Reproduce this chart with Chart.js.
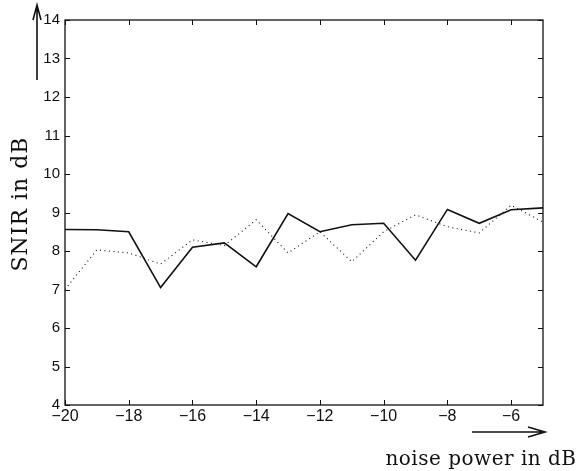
<!DOCTYPE html>
<html>
<head>
<meta charset="utf-8">
<script src="https://cdn.jsdelivr.net/npm/chart.js@4.4.1/dist/chart.umd.min.js"></script>
<style>
  html, body { margin: 0; padding: 0; background: #fff; }
  canvas { display: block; }
</style>
</head>
<body>
<canvas id="myChart" width="580" height="471"></canvas>
<script>
const noisePower = [-20, -19, -18, -17, -16, -15, -14, -13, -12, -11, -10, -9, -8, -7, -6, -5];
const snirSolid  = [8.56, 8.55, 8.50, 7.05, 8.10, 8.21, 7.59, 8.97, 8.50, 8.68, 8.72, 7.76, 9.08, 8.72, 9.07, 9.12];
const snirDotted = [7.00, 8.03, 7.95, 7.66, 8.29, 8.14, 8.81, 7.95, 8.50, 7.72, 8.50, 8.94, 8.63, 8.47, 9.19, 8.75];
const xTicks = [-20, -18, -16, -14, -12, -10, -8, -6];
const yTicks = [4, 5, 6, 7, 8, 9, 10, 11, 12, 13, 14];
const xTitle = 'noise power in dB';
const yTitle = 'SNIR in dB';

const ink = '#111';
const minus = v => (v < 0 ? '\u2212' + Math.abs(v) : String(v));

// box, inward ticks, titles and the two arrows (matlab style)
const frame = {
  id: 'frame',
  afterDraw(chart) {
    const c = chart.ctx;
    const a = chart.chartArea;
    const xs = chart.scales.x, ys = chart.scales.y;
    c.save();
    c.strokeStyle = ink;
    c.lineWidth = 1.3;
    c.strokeRect(a.left, a.top, a.right - a.left, a.bottom - a.top);

    c.lineWidth = 1;
    c.beginPath();
    xTicks.forEach(v => {
      const px = Math.round(xs.getPixelForValue(v)) + 0.5;
      c.moveTo(px, a.bottom); c.lineTo(px, a.bottom - 5);
      c.moveTo(px, a.top); c.lineTo(px, a.top + 5);
    });
    yTicks.forEach(v => {
      const py = Math.round(ys.getPixelForValue(v)) + 0.5;
      c.moveTo(a.left, py); c.lineTo(a.left + 5, py);
      c.moveTo(a.right, py); c.lineTo(a.right - 5, py);
    });
    c.stroke();

    // axis titles
    c.fillStyle = ink;
    c.textAlign = 'center';
    c.save();
    c.font = '20px "DejaVu Serif", serif';
    c.textBaseline = 'alphabetic';
    c.letterSpacing = '0.5px';
    c.fillText(xTitle, 481, 465);
    c.restore();
    c.save();
    c.font = '22px "DejaVu Serif", serif';
    c.textBaseline = 'middle';
    c.letterSpacing = '1px';
    c.translate(21, 204);
    c.rotate(-Math.PI / 2);
    c.fillText(yTitle, 0, 0);
    c.restore();

    // arrows
    c.lineWidth = 1.6;
    c.beginPath();
    c.moveTo(37, 80); c.lineTo(37, 6);
    c.moveTo(33, 20); c.lineTo(37, 5); c.lineTo(41, 20);
    c.moveTo(472, 432); c.lineTo(544, 432);
    c.moveTo(528, 427); c.lineTo(545, 432); c.lineTo(528, 437);
    c.stroke();
    c.restore();
  }
};

new Chart(document.getElementById('myChart'), {
  type: 'line',
  data: {
    datasets: [{
      label: 'solid',
      data: noisePower.map((x, i) => ({ x: x, y: snirSolid[i] })),
      borderColor: ink,
      borderWidth: 1.6,
      pointRadius: 0,
      tension: 0
    }, {
      label: 'dotted',
      data: noisePower.map((x, i) => ({ x: x, y: snirDotted[i] })),
      borderColor: ink,
      borderWidth: 1.1,
      borderDash: [1, 3.5],
      pointRadius: 0,
      tension: 0
    }]
  },
  options: {
    responsive: false,
    devicePixelRatio: 1,
    animation: false,
    layout: { padding: { top: 20, right: 37, left: 0, bottom: 0 } },
    plugins: { legend: { display: false }, tooltip: { enabled: false } },
    scales: {
      x: {
        type: 'linear',
        min: -20,
        max: -5,
        afterBuildTicks: s => { s.ticks = xTicks.map(v => ({ value: v })); },
        afterFit: s => { s.height = 66; },
        grid: { display: false, drawTicks: false, tickLength: 0 },
        border: { display: false },
        ticks: {
          color: ink, padding: 2, maxRotation: 0, autoSkip: false, callback: minus,
          font: { family: '"Liberation Sans", Arial, sans-serif', size: 16 }
        }
      },
      y: {
        min: 4,
        max: 14,
        afterBuildTicks: s => { s.ticks = yTicks.map(v => ({ value: v })); },
        afterFit: s => { s.width = 65; },
        grid: { display: false, drawTicks: false, tickLength: 0 },
        border: { display: false },
        ticks: {
          color: ink, padding: 5, autoSkip: false, callback: minus,
          font: { family: '"Liberation Sans", Arial, sans-serif', size: 15 }
        }
      }
    }
  },
  plugins: [frame]
});
</script>
</body>
</html>
